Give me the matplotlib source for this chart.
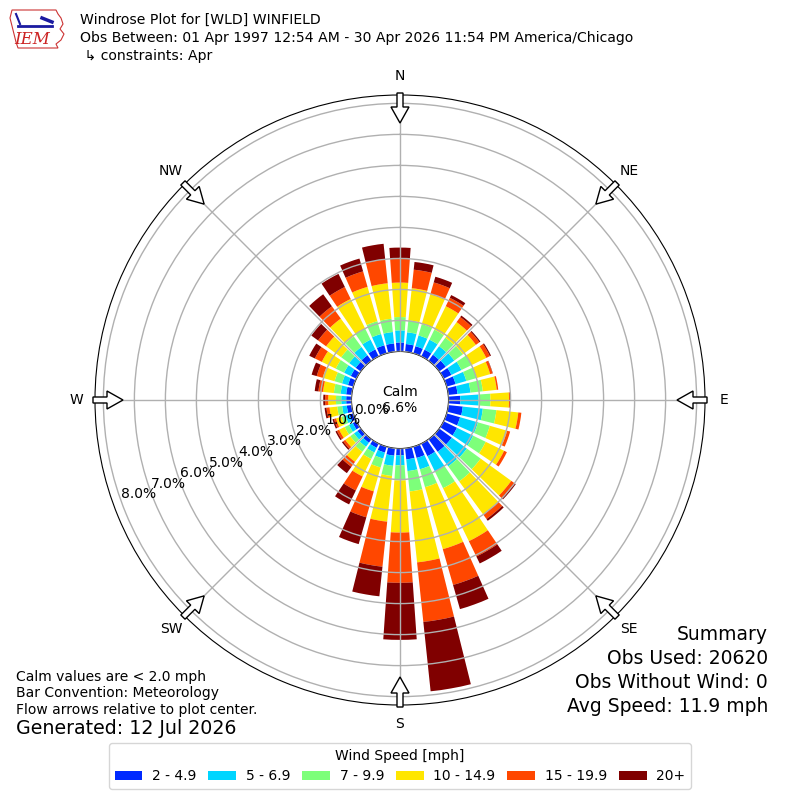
import numpy as np
import matplotlib
matplotlib.use("Agg")
import matplotlib.pyplot as plt
from matplotlib.patches import FancyArrow, Polygon

# ---------------- data ----------------
directions = [0, 10, 20, 30, 40, 50, 60, 70, 80, 90, 100, 110, 120, 130, 140, 150, 160, 170,
              180, 190, 200, 210, 220, 230, 240, 250, 260, 270, 280, 290, 300, 310, 320, 330, 340, 350]
speed_labels = ["2 - 4.9", "5 - 6.9", "7 - 9.9", "10 - 14.9", "15 - 19.9", "20+"]

spd_2_5 = [.29, .25, .24, .24, .24, .26, .28, .30, .30, .38, .47, .45, .48, .50, .50, .45, .38, .36,
           .22, .24, .20, .15, .14, .13, .13, .13, .16, .17, .18, .18, .20, .20, .22, .25, .27, .27]
spd_5_7 = [.39, .38, .36, .36, .34, .34, .36, .36, .42, .59, .65, .60, .58, .60, .58, .55, .38, .38,
           .32, .33, .20, .17, .16, .14, .14, .13, .15, .16, .18, .20, .24, .26, .33, .35, .38, .37]
spd_7_10 = [.43, .39, .38, .36, .34, .34, .36, .35, .40, .38, .44, .40, .45, .55, .60, .60, .60, .66,
            .49, .33, .30, .23, .20, .15, .15, .14, .16, .17, .22, .25, .30, .32, .42, .40, .43, .43]
spd_10_15 = [1.11, 1.04, 1.00, .84, .62, .52, .53, .45, .45, .60, .71, .58, .66, 1.22, 1.32, 1.90, 2.08, 2.30,
             1.68, 1.48, .80, .63, .40, .20, .20, .18, .25, .25, .35, .40, .50, .60, .71, 1.06, 1.15, 1.15]
spd_15_20 = [.76, .60, .40, .30, .20, .14, .13, .08, .05, .05, .10, .10, .10, .13, .18, .55, 1.20, 1.93,
             1.62, 1.46, .87, .50, .20, .08, .08, .07, .10, .10, .15, .20, .25, .32, .49, .43, .52, .77]
spd_20p = [.37, .25, .19, .10, .06, .04, .04, .01, .00, .00, .00, .00, .00, .05, .07, .25, .81, 2.25,
           1.84, .96, .90, .50, .25, .05, .05, .05, .06, .06, .12, .17, .20, .27, .48, .47, .43, .51]

rings = [0, 1, 2, 3, 4, 5, 6, 7, 8]
ring_labels = ["0.0%", "1.0%", "2.0%", "3.0%", "4.0%", "5.0%", "6.0%", "7.0%", "8.0%"]
compass_angles = [0, 45, 90, 135, 180, 225, 270, 315]
compass_labels = ["N", "NE", "E", "SE", "S", "SW", "W", "NW"]
calm_pct = 6.6

series = [spd_2_5, spd_5_7, spd_7_10, spd_10_15, spd_15_20, spd_20p]

# ---------------- figure ----------------
fig = plt.figure(figsize=(8, 8), dpi=100)
R = 305 / 800
ax = fig.add_axes([0.5 - R, 0.5 - R, 2 * R, 2 * R], projection="polar")
ax.set_theta_zero_location("N")
ax.set_theta_direction(-1)

colors = plt.cm.jet(np.linspace(0, 1, 7)[1:])
theta = np.deg2rad(directions)
bottom = np.zeros(len(directions))
handles = []
for vals, c, lab in zip(series, colors, speed_labels):
    vals = np.asarray(vals, dtype=float)
    b = ax.bar(theta, vals, width=np.deg2rad(8), bottom=bottom, color=c,
               linewidth=0, label=lab, zorder=1)
    handles.append(b)
    bottom = bottom + vals

ax.set_ylim(0, 8.27)
ax.set_rorigin(-1.565)
ax.set_yticks(rings)
ax.set_yticklabels(ring_labels, fontsize=10)
ax.set_rlabel_position(250)
ax.set_xticks(np.deg2rad(compass_angles))
ax.set_xticklabels(compass_labels, fontsize=10)
ax.tick_params(axis="x", pad=3)
ax.grid(True, color="#b0b0b0", linewidth=1)
ax.set_axisbelow(False)

# flow arrows
for a in compass_angles:
    ux, uy = np.sin(np.deg2rad(a)), np.cos(np.deg2rad(a))
    r0 = 307 / 800
    L = 30 / 800
    arr = FancyArrow(0.5 + r0 * ux, 0.5 + r0 * uy, -L * ux, -L * uy,
                     width=6 / 800, head_width=18 / 800, head_length=16 / 800,
                     length_includes_head=True, fc="white", ec="black", lw=1,
                     transform=fig.transFigure, zorder=10)
    fig.add_artist(arr)

# calm text
fig.text(0.5, 0.5, "Calm\n%.1f%%" % calm_pct, ha="center", va="center", fontsize=10)

# header
fig.text(80 / 800, 1 - 24 / 800, "Windrose Plot for [WLD] WINFIELD", fontsize=10.1, va="baseline")
fig.text(80 / 800, 1 - 42 / 800,
         "Obs Between: 01 Apr 1997 12:54 AM - 30 Apr 2026 11:54 PM America/Chicago",
         fontsize=10.1, va="baseline")
fig.text(80 / 800, 1 - 60 / 800, " \u21b3 constraints: Apr", fontsize=10.1, va="baseline")

# logo (simple)
lax = fig.add_axes([6 / 800, 1 - 52 / 800, 60 / 800, 48 / 800])
lax.set_xlim(0, 60)
lax.set_ylim(48, 0)
lax.axis("off")
outline = [(6, 6), (50, 6), (52, 10), (55, 14), (57, 20), (54, 25), (58, 30), (55, 36),
           (50, 40), (52, 44), (12, 44), (10, 38), (8, 30), (6, 22), (4, 14)]
lax.add_patch(Polygon(outline, closed=True, fill=False, ec="#cc3333", lw=0.8))
lax.plot([12, 46], [22, 22], color="#1a1aa0", lw=2)
lax.plot([10, 14], [10, 20], color="#1a1aa0", lw=1.5)
lax.plot([36, 46], [14, 18], color="#1a1aa0", lw=2.5)
lax.text(8, 40, "IEM", color="#cc2222", fontsize=12, family="DejaVu Serif", style="italic")

# bottom-left notes
fig.text(16 / 800, 1 - 677 / 800, "Calm values are < 2.0 mph", fontsize=10, va="center")
fig.text(16 / 800, 1 - 693 / 800, "Bar Convention: Meteorology", fontsize=10, va="center")
fig.text(16 / 800, 1 - 710 / 800, "Flow arrows relative to plot center.", fontsize=10, va="center")
fig.text(16 / 800, 1 - 729 / 800, "Generated: 12 Jul 2026", fontsize=13.7, va="center")

# summary
fig.text(768 / 800, 1 - 635 / 800, "Summary", fontsize=13.5, ha="right", va="center")
fig.text(768 / 800, 1 - 659 / 800, "Obs Used: 20620", fontsize=13.5, ha="right", va="center")
fig.text(768 / 800, 1 - 683 / 800, "Obs Without Wind: 0", fontsize=13.5, ha="right", va="center")
fig.text(768 / 800, 1 - 706 / 800, "Avg Speed: 11.9 mph", fontsize=13.5, ha="right", va="center")

# legend
fig.legend(handles, speed_labels, loc="center", bbox_to_anchor=(0.5, 1 - 766 / 800),
           ncol=6, title="Wind Speed [mph]", fontsize=10, title_fontsize=10,
           columnspacing=0.85, handletextpad=0.7)

fig.savefig("out.png", dpi=100)
